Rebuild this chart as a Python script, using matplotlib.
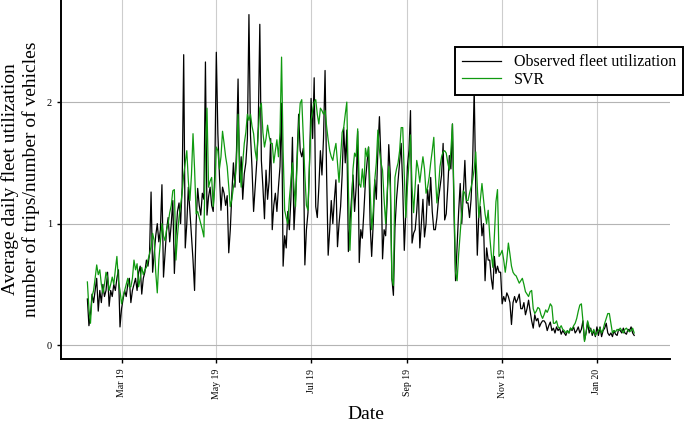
"""Observed vs. SVR-predicted average daily fleet utilization, Feb 2019 - Jan 2020."""

import matplotlib
matplotlib.use("Agg")
import matplotlib.dates as mdates
import matplotlib.pyplot as plt
import pandas as pd

START = "2019-02-07"

# daily values, one row per week
observed = [
    0.38, 0.16, 0.25, 0.42, 0.35, 0.45, 0.55,
    0.28, 0.45, 0.35, 0.50, 0.40, 0.45, 0.60,
    0.32, 0.45, 0.40, 0.50, 0.45, 0.55, 0.62,
    0.15, 0.30, 0.38, 0.45, 0.40, 0.50, 0.55,
    0.35, 0.45, 0.50, 0.55, 0.45, 0.60, 0.65,
    0.42, 0.55, 0.60, 0.70, 0.65, 0.75, 1.26,
    0.60, 0.75, 0.90, 1.00, 0.85, 0.95, 1.32,
    0.56, 0.75, 0.95, 1.05, 0.85, 1.00, 1.19,
    0.59, 0.90, 1.10, 1.17, 1.00, 1.30, 2.39,
    0.80, 1.00, 1.30, 1.10, 0.90, 0.70, 0.45,
    1.00, 1.29, 1.15, 1.07, 1.25, 1.20, 2.33,
    1.07, 1.22, 1.30, 1.15, 1.10, 1.40, 2.41,
    1.74, 1.40, 1.11, 1.30, 1.25, 1.15, 1.23,
    0.76, 0.95, 1.25, 1.50, 1.30, 1.60, 2.19,
    1.34, 1.55, 1.20, 1.41, 1.50, 1.70, 2.72,
    1.73, 1.45, 1.10, 1.30, 1.50, 1.80, 2.64,
    1.52, 1.30, 1.04, 1.44, 1.20, 1.35, 1.70,
    0.95, 1.15, 1.25, 1.10, 1.30, 1.47, 1.99,
    0.65, 0.90, 0.80, 1.10, 0.95, 1.20, 1.71,
    0.95, 1.20, 1.55, 1.90, 1.60, 1.55, 1.62,
    0.66, 0.95, 1.09, 1.50, 2.03, 1.70, 2.20,
    1.14, 1.05, 1.30, 1.60, 1.40, 1.70, 2.26,
    1.40, 0.74, 0.95, 1.19, 1.00, 1.20, 1.36,
    0.81, 1.00, 1.14, 1.40, 1.79, 1.50, 1.77,
    0.77, 1.00, 1.20, 1.40, 1.10, 1.30, 1.76,
    0.68, 0.95, 0.88, 1.10, 1.35, 1.50, 1.63,
    1.00, 0.73, 1.00, 1.36, 1.20, 1.60, 1.88,
    1.52, 0.71, 0.95, 0.90, 1.20, 1.65, 1.40,
    0.55, 0.41, 0.97, 1.20, 1.35, 1.50, 1.66,
    1.30, 0.78, 1.10, 1.47, 1.60, 1.93, 0.84,
    0.92, 0.95, 1.10, 1.32, 0.80, 1.00, 1.20,
    0.89, 1.00, 1.28, 1.15, 1.38, 1.10, 0.95,
    0.95, 1.05, 1.20, 1.30, 1.40, 1.66, 1.03,
    1.08, 1.30, 1.56, 1.45, 1.82, 1.10, 0.53,
    0.81, 1.10, 1.33, 1.00, 1.25, 1.52, 1.17,
    1.17, 1.05, 1.20, 1.50, 2.11, 1.30, 0.74,
    1.08, 1.14, 0.90, 1.00, 0.53, 0.80, 0.70,
    0.70, 0.55, 0.46, 0.73, 0.59, 0.65, 0.60,
    0.60, 0.34, 0.40, 0.36, 0.43, 0.40, 0.35,
    0.17, 0.35, 0.40, 0.35, 0.38, 0.42, 0.30,
    0.30, 0.35, 0.25, 0.30, 0.37, 0.28, 0.20,
    0.14, 0.25, 0.20, 0.22, 0.15, 0.18, 0.20,
    0.20, 0.18, 0.12, 0.16, 0.19, 0.12, 0.14,
    0.10, 0.15, 0.12, 0.14, 0.09, 0.12, 0.10,
    0.08, 0.12, 0.10, 0.14, 0.12, 0.15, 0.10,
    0.12, 0.15, 0.10, 0.13, 0.20, 0.04, 0.10,
    0.19, 0.10, 0.14, 0.08, 0.12, 0.07, 0.15,
    0.08, 0.15, 0.07, 0.12, 0.14, 0.18, 0.10,
    0.08, 0.10, 0.07, 0.12, 0.09, 0.08, 0.13,
    0.12, 0.10, 0.14, 0.10, 0.09, 0.13, 0.12,
    0.15, 0.10, 0.08,
]

svr = [
    0.52, 0.30, 0.18, 0.40, 0.45, 0.55, 0.66,
    0.58, 0.62, 0.50, 0.43, 0.50, 0.60, 0.56,
    0.45, 0.50, 0.56, 0.50, 0.62, 0.73, 0.53,
    0.45, 0.34, 0.40, 0.45, 0.50, 0.55, 0.48,
    0.48, 0.55, 0.70, 0.62, 0.67, 0.48, 0.55,
    0.64, 0.58, 0.62, 0.64, 0.70, 0.75, 0.81,
    0.92, 0.86, 0.60, 0.43, 0.70, 0.85, 1.00,
    0.90, 0.86, 0.95, 1.00, 1.09, 1.15, 1.27,
    1.28, 0.70, 0.90, 1.05, 1.15, 1.25, 1.40,
    1.50, 1.60, 1.35, 1.19, 1.40, 1.74, 1.45,
    1.08, 1.10, 1.05, 1.00, 0.95, 0.89, 1.60,
    1.95, 1.30, 1.35, 1.38, 1.14, 1.30, 1.63,
    1.60, 1.45, 1.55, 1.76, 1.66, 1.55, 1.47,
    1.30, 1.14, 1.20, 1.30, 1.36, 1.50, 1.90,
    1.50, 1.30, 1.50, 1.66, 1.75, 1.90, 1.85,
    1.90, 1.80, 1.74, 1.60, 1.52, 1.75, 1.95,
    1.99, 1.75, 1.63, 1.70, 1.81, 1.72, 1.66,
    1.66, 1.50, 1.60, 1.69, 1.55, 1.75, 2.37,
    1.60, 1.11, 1.05, 1.00, 1.20, 1.35, 1.50,
    1.30, 1.14, 1.50, 1.80, 1.99, 2.02, 1.70,
    1.40, 1.15, 1.11, 1.50, 1.85, 1.93, 2.00,
    2.02, 1.90, 1.82, 1.95, 1.93, 1.90, 1.93,
    1.80, 1.69, 1.60, 1.55, 1.52, 1.60, 1.66,
    1.50, 1.34, 1.55, 1.75, 1.79, 1.90, 2.00,
    1.30, 0.78, 1.10, 1.45, 1.58, 1.55, 1.78,
    1.33, 1.30, 1.45, 1.30, 1.62, 1.55, 1.63,
    1.30, 0.95, 1.10, 1.36, 1.50, 1.77, 1.60,
    1.50, 1.44, 1.20, 1.00, 1.25, 1.47, 1.30,
    0.55, 0.49, 1.38, 1.45, 1.50, 1.60, 1.79,
    1.79, 1.40, 1.05, 1.30, 1.50, 1.73, 1.30,
    1.09, 1.30, 1.52, 1.45, 1.34, 1.45, 1.55,
    1.45, 1.25, 1.30, 1.38, 1.50, 1.60, 1.71,
    1.40, 1.17, 1.30, 1.47, 1.55, 1.59, 1.60,
    1.58, 1.50, 1.44, 1.60, 1.82, 1.20, 0.60,
    0.53, 0.75, 0.92, 1.10, 1.27, 1.25, 1.19,
    1.19, 1.25, 1.30, 1.36, 1.45, 1.59, 1.30,
    1.05, 1.20, 1.33, 1.20, 1.08, 1.00, 1.11,
    0.90, 0.75, 0.64, 0.90, 1.18, 1.28, 0.73,
    0.75, 0.78, 0.70, 0.60, 0.70, 0.84, 0.75,
    0.65, 0.60, 0.58, 0.57, 0.54, 0.51, 0.53,
    0.55, 0.50, 0.44, 0.42, 0.40, 0.44, 0.45,
    0.30, 0.26, 0.28, 0.31, 0.30, 0.25, 0.22,
    0.25, 0.29, 0.27, 0.30, 0.34, 0.32, 0.18,
    0.18, 0.20, 0.15, 0.14, 0.16, 0.13, 0.12,
    0.10, 0.12, 0.10, 0.14, 0.13, 0.16, 0.18,
    0.22, 0.28, 0.33, 0.34, 0.20, 0.03, 0.10,
    0.20, 0.15, 0.12, 0.10, 0.13, 0.08, 0.10,
    0.12, 0.14, 0.10, 0.13, 0.18, 0.22, 0.26,
    0.26, 0.18, 0.10, 0.12, 0.11, 0.13, 0.12,
    0.14, 0.12, 0.10, 0.13, 0.14, 0.12, 0.11,
    0.12, 0.14, 0.10,
]

y_ticks = [0, 1, 2]
x_ticks = ["2019-03-01", "2019-05-01", "2019-07-01", "2019-09-01", "2019-11-01", "2020-01-01"]


def main() -> None:
    plt.rcParams["font.family"] = ["Liberation Serif", "DejaVu Serif"]
    dates = pd.date_range(START, periods=len(observed), freq="D")

    fig = plt.figure(figsize=(6.85, 4.25), dpi=100)
    ax = fig.add_axes([0.089, 0.155, 0.889, 0.845])

    ax.plot(dates, observed, color="black", lw=0.9, label="Observed fleet utilization")
    ax.plot(dates, svr, color="#109a10", lw=0.9, label="SVR")

    ax.set_xlim(pd.Timestamp("2019-01-21"), pd.Timestamp("2020-02-17"))
    ax.set_ylim(-0.115, 2.84)
    ax.set_yticks(y_ticks)
    ax.set_xticks(pd.to_datetime(x_ticks))
    ax.xaxis.set_major_formatter(mdates.DateFormatter("%b %y"))
    ax.tick_params(axis="x", labelsize=7, rotation=90, length=3, width=1, pad=4)
    ax.tick_params(axis="y", labelsize=7.5, length=3, width=1)

    ax.grid(axis="y", color="#b4b4b4", lw=0.8)
    ax.grid(axis="x", color="#cdcdcd", lw=0.8)
    ax.set_axisbelow(True)
    for side in ("top", "right"):
        ax.spines[side].set_visible(False)
    for side in ("left", "bottom"):
        ax.spines[side].set_linewidth(1.4)

    ax.set_xlabel("Date", fontsize=14, labelpad=5)
    ax.set_ylabel("Average daily fleet utilization\nnumber of trips/number of vehicles",
                  fontsize=14, linespacing=1.25, labelpad=5)

    leg = ax.legend(loc="upper right", bbox_to_anchor=(0.997, 0.889),
                    bbox_transform=fig.transFigure, borderaxespad=0,
                    fontsize=11.5, frameon=True, fancybox=False, framealpha=1,
                    edgecolor="black", handlelength=2.4, handletextpad=0.8,
                    labelspacing=0.1, borderpad=0.45)
    leg.get_frame().set_linewidth(1.4)

    fig.savefig("out.png", dpi=100)
    plt.close(fig)


if __name__ == "__main__":
    main()
